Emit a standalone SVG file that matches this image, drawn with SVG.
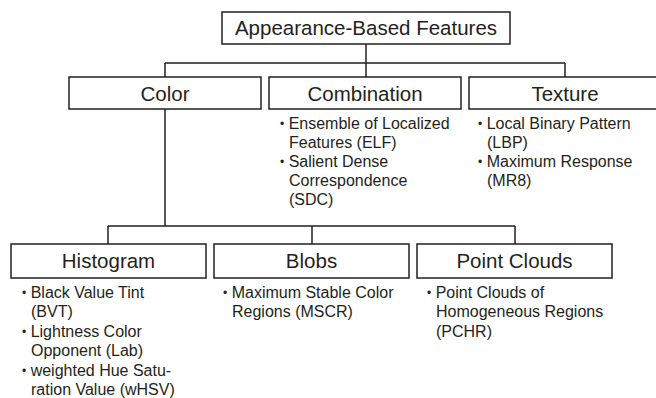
<svg xmlns="http://www.w3.org/2000/svg" width="656" height="398" viewBox="0 0 656 398">
<style>
.box{fill:#fff;stroke:#231f20;stroke-width:1.5}
.lbl{font-family:"Liberation Sans",Arial,sans-serif;font-size:20.5px;fill:#231f20;text-anchor:middle}
.itm{font-family:"Liberation Sans",Arial,sans-serif;font-size:16px;fill:#231f20}
.b{font-size:12px}
.conn{fill:none;stroke:#231f20;stroke-width:1.5}
</style>
<rect width="656" height="398" fill="#fff"/>
<g id="connectors">
<path class="conn" d="M366 44V63M165 63H565M165 63V77M366 63V77M565 63V77"/>
<path class="conn" d="M165 109V226M108 226H515M108 226V244M312 226V244M515 226V244"/>
</g>
<g id="root">
<rect class="box" x="222" y="12" width="288" height="32"/>
<text class="lbl" x="366" y="35">Appearance-Based Features</text>
</g>
<g id="color">
<rect class="box" x="69" y="77" width="192" height="32"/>
<text class="lbl" x="165" y="101">Color</text>
</g>
<g id="combination">
<rect class="box" x="269" y="77" width="192" height="32"/>
<text class="lbl" x="365" y="101">Combination</text>
<text class="itm" x="280" y="129"><tspan class="b" dy="-1">•</tspan><tspan dy="1"> Ensemble of Localized</tspan></text>
<text class="itm" x="289" y="148">Features (ELF)</text>
<text class="itm" x="280" y="167"><tspan class="b" dy="-1">•</tspan><tspan dy="1"> Salient Dense</tspan></text>
<text class="itm" x="289" y="186">Correspondence</text>
<text class="itm" x="289" y="205">(SDC)</text>
</g>
<g id="texture">
<rect class="box" x="469" y="77" width="192" height="32"/>
<text class="lbl" x="565" y="101">Texture</text>
<text class="itm" x="478" y="129"><tspan class="b" dy="-1">•</tspan><tspan dy="1"> Local Binary Pattern</tspan></text>
<text class="itm" x="487" y="148">(LBP)</text>
<text class="itm" x="478" y="167"><tspan class="b" dy="-1">•</tspan><tspan dy="1"> Maximum Response</tspan></text>
<text class="itm" x="487" y="186">(MR8)</text>
</g>
<g id="histogram">
<rect class="box" x="11" y="244" width="195" height="34"/>
<text class="lbl" x="108.5" y="268">Histogram</text>
<text class="itm" x="22" y="298"><tspan class="b" dy="-1">•</tspan><tspan dy="1"> Black Value Tint</tspan></text>
<text class="itm" x="31" y="317">(BVT)</text>
<text class="itm" x="22" y="336.5"><tspan class="b" dy="-1">•</tspan><tspan dy="1"> Lightness Color</tspan></text>
<text class="itm" x="31" y="356">Opponent (Lab)</text>
<text class="itm" x="22" y="375.5"><tspan class="b" dy="-1">•</tspan><tspan dy="1"> weighted Hue Satu-</tspan></text>
<text class="itm" x="31" y="395">ration Value (wHSV)</text>
</g>
<g id="blobs">
<rect class="box" x="214" y="244" width="195" height="34"/>
<text class="lbl" x="311.5" y="268">Blobs</text>
<text class="itm" x="223" y="298"><tspan class="b" dy="-1">•</tspan><tspan dy="1"> Maximum Stable Color</tspan></text>
<text class="itm" x="232" y="317">Regions (MSCR)</text>
</g>
<g id="pointclouds">
<rect class="box" x="417" y="244" width="195" height="34"/>
<text class="lbl" x="514.5" y="268">Point Clouds</text>
<text class="itm" x="427" y="298"><tspan class="b" dy="-1">•</tspan><tspan dy="1"> Point Clouds of</tspan></text>
<text class="itm" x="436" y="317">Homogeneous Regions</text>
<text class="itm" x="436" y="336.5">(PCHR)</text>
</g>
</svg>
